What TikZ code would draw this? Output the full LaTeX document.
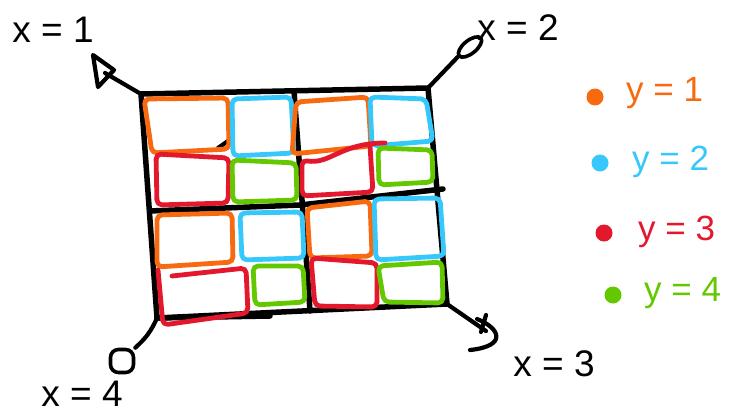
\documentclass[tikz,border=0pt]{standalone}
\usepackage{fontspec}
\setmainfont{Liberation Sans}
\usetikzlibrary{shapes.geometric}
\definecolor{cO}{RGB}{247,106,16}
\definecolor{cB}{RGB}{54,200,250}
\definecolor{cR}{RGB}{228,24,44}
\definecolor{cG}{RGB}{100,200,0}
\begin{document}
\begin{tikzpicture}[x=1pt,y=-1pt,
  gridline/.style={black,line width=5.5pt,line join=round,line cap=round},
  cell/.style={line width=4.8pt,rounded corners=5pt,line cap=round,line join=round},
  pointer/.style={black,line width=4.2pt,line cap=round,line join=round},
  xlbl/.style={font=\fontsize{37}{37}\selectfont,inner sep=0pt},
  ylbl/.style={font=\fontsize{35}{35}\selectfont,inner sep=0pt,anchor=west},
  dot/.style={circle,inner sep=0pt,minimum size=17pt}]
\useasboundingbox (0,0) rectangle (735,417);

% grid corners
\coordinate (c1) at (141,94);
\coordinate (c2) at (428,88);
\coordinate (c3) at (447,304);
\coordinate (c4) at (157,318);
\coordinate (mt) at (294,91);
\coordinate (mb) at (310,311);
\coordinate (ml) at (150,211);
\coordinate (mr) at (443,189);

% black frame and dividers
\draw[gridline] (c1) -- (c2) -- (c3) -- (c4) -- cycle;
\draw[gridline] (mt) -- (302,200) -- (mb);
\draw[gridline] (ml) -- (300,205) -- (mr);
\draw[gridline] (c4) -- (270,316);
\draw[pointer] (218,148) -- (228,141);

% top-left quadrant
\draw[cell,cO] (144,99) -- (228,98) -- (229,149) -- (152,153) -- cycle;
\draw[cell,cB] (232,99) -- (291,97) -- (294,153) -- (233,156) -- cycle;
\draw[cell,cR] (156,154) -- (229,158) -- (228,203) -- (157,205) -- cycle;
\draw[cell,cG] (232,160) -- (296,163) -- (297,200) -- (233,202) -- cycle;

% top-right quadrant
\draw[cell,cO] (296,102) -- (368,97) -- (371,146) -- (292,154) -- cycle;
\draw[cell,cB] (370,97) -- (426,99) -- (433,141) -- (372,146) -- cycle;
\draw[cell,cR] (385,143) .. controls (340,143) and (330,165) .. (302,160) -- (302,196) -- (373,192) -- (370,146);
\draw[cell,cG] (378,148) -- (432,150) -- (433,182) -- (379,185) -- cycle;

% bottom-left quadrant
\draw[cell,cO] (157,215) -- (232,213) -- (233,262) -- (157,267) -- cycle;
\draw[cell,cB] (240,213) -- (302,212) -- (304,258) -- (242,260) -- cycle;
\draw[cell,cR] (172,276) -- (246,268) -- (248,313) -- (163,325) -- (158,270);
\draw[cell,cG] (253,266) -- (303,266) -- (305,302) -- (255,305) -- cycle;

% bottom-right quadrant
\draw[cell,cO] (307,208) -- (370,201) -- (372,256) -- (310,258) -- cycle;
\draw[cell,cB] (374,199) -- (440,198) -- (444,256) -- (376,260) -- cycle;
\draw[cell,cR] (311,258) -- (377,263) -- (377,307) -- (315,306) -- cycle;
\draw[cell,cG] (378,266) -- (442,262) -- (443,303) -- (384,302) -- cycle;

% pointer ends
\coordinate (e1) at (105,73);
\node[draw,ellipse,line width=3.6pt,minimum width=28pt,minimum height=13pt,inner sep=0pt,rotate=39] (e2) at (470,47) {};
\coordinate (e3) at (486,331);
\node[draw,rounded corners=8pt,line width=3.6pt,minimum width=23pt,minimum height=23pt,inner sep=0pt] (e4) at (122,361) {};

% pointers
\draw[pointer] (c1) -- (e1);
\draw[pointer] (93,55) -- (98,87) -- (114,70) -- cycle;
\draw[pointer] (c2) -- (e2.west);
\draw[pointer] (c3) -- (e3);
\draw[pointer] (477,319) .. controls (500,328) and (508,346) .. (470,350);
\draw[pointer] (486,315) -- (481,332);
\draw[pointer] (c4) to[bend left=12] (e4.north east);

% x labels
\node[xlbl] (x1) at (53,30) {x = 1};
\node[xlbl] (x2) at (518,28) {x = 2};
\node[xlbl] (x3) at (554,364) {x = 3};
\node[xlbl] (x4) at (82,394) {x = 4};

% legend
\node[dot,fill=cO] (d1) at (595,97) {};
\node[dot,fill=cB] (d2) at (600,163) {};
\node[dot,fill=cR] (d3) at (604,233) {};
\node[dot,fill=cG] (d4) at (613,295) {};
\node[ylbl,text=cO] (y1) at (626,93) {y = 1};
\node[ylbl,text=cB] (y2) at (632,162) {y = 2};
\node[ylbl,text=cR] (y3) at (638,232) {y = 3};
\node[ylbl,text=cG] (y4) at (644,293) {y = 4};
\end{tikzpicture}
\end{document}
